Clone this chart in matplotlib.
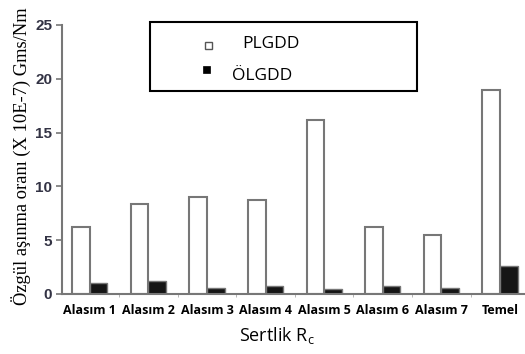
import numpy as np
import matplotlib.pyplot as plt
from matplotlib.patches import Rectangle

groups = ['Alasım 1', 'Alasım 2', 'Alasım 3', 'Alasım 4', 'Alasım 5', 'Alasım 6', 'Alasım 7', 'Temel']
plgdd = [6.2, 8.4, 9.0, 8.7, 16.2, 6.2, 5.5, 19.0]
olgdd = [1.0, 1.25, 0.6, 0.7, 0.5, 0.7, 0.6, 2.6]

W, H = 525, 354
fig = plt.figure(figsize=(W / 100, H / 100), dpi=100)
ax = fig.add_axes([0.118, 0.1695, 0.88, 0.76])

x = np.arange(len(groups))
w = 0.3
ax.bar(x - w / 2, plgdd, w, color='white', edgecolor='#777777', linewidth=1.5)
ax.bar(x + w / 2, olgdd, w, color='#151515', edgecolor='#777777', linewidth=1.0)

ax.set_xlim(-0.477, 7.41)
ax.set_ylim(0, 25)
ax.set_yticks([0, 5, 10, 15, 20, 25])
ax.set_yticklabels(['0', '5', '10', '15', '20', '25'], fontweight='bold', fontsize=11,
                   color='#333344', family='Liberation Sans')
ax.set_xticks(x)
ax.set_xticklabels(groups, fontweight='bold', fontsize=9, family='Open Sans')
ax.tick_params(axis='x', length=0, pad=7)
ax.tick_params(axis='y', length=4, color='#777777', width=1.2, pad=3)
ax.set_xticks(x[:-1] + 0.5, minor=True)
ax.tick_params(axis='x', which='minor', length=2, color='#aaaaaa')

for s in ['top', 'right']:
    ax.spines[s].set_visible(False)
for s in ['left', 'bottom']:
    ax.spines[s].set_color('#777777')
    ax.spines[s].set_linewidth(1.5)

ax.set_xlabel('Sertlik R$_\\mathregular{c}$', fontsize=13, family='Open Sans')
ax.xaxis.set_label_coords(0.465, -0.115)
ax.set_ylabel('Özgül aşınma oranı (X 10E-7) Gms/Nm', fontsize=13.3, family='Liberation Serif')
ax.yaxis.set_label_coords(-0.066, 0.513)


# legend drawn by hand (box is much wider than the entries)
def box(x0, y0, x1, y1, **kw):
    fig.add_artist(Rectangle((x0 / W, 1 - y1 / H), (x1 - x0) / W, (y1 - y0) / H,
                             transform=fig.transFigure, **kw))


box(150, 22, 417, 91, facecolor='white', edgecolor='black', linewidth=1.5)
box(205, 42, 211.5, 48.5, facecolor='white', edgecolor='#555555', linewidth=1.0)
box(203, 66.5, 209.5, 73, facecolor='black', edgecolor='black', linewidth=0.5)
fig.text(242 / W, 1 - 48.5 / H, 'PLGDD', fontsize=12.5, family='Open Sans', va='baseline')
fig.text(232 / W, 1 - 79.5 / H, 'ÖLGDD', fontsize=12.5, family='Open Sans', va='baseline')

fig.savefig('out.png', dpi=100)
